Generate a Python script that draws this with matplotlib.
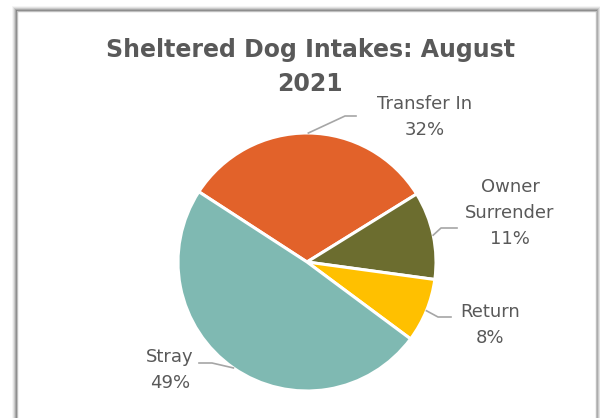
import numpy as np
import matplotlib
matplotlib.use("Agg")
import matplotlib.pyplot as plt
from matplotlib.patches import Rectangle
from matplotlib.lines import Line2D

categories = ["Transfer In", "Owner\nSurrender", "Return", "Stray"]
values = [32, 11, 8, 49]
colors = ["#E2622A", "#6C6D2F", "#FFC000", "#7FB9B2"]
title = "Sheltered Dog Intakes: August\n2021"

W, H = 600, 418
fig = plt.figure(figsize=(W / 100, H / 100), dpi=100)
fig.patch.set_facecolor("white")

# chart-area frame with soft shadow
fx0, fy0, fx1 = 17, 11, 596
for i, a in enumerate([0.04, 0.07, 0.11, 0.16, 0.22]):
    d = 5 - i
    fig.patches.append(Rectangle(((fx0 - d) / W, -0.1), (fx1 - fx0 + 2 * d) / W,
                                 (H - fy0 + d) / H + 0.1, transform=fig.transFigure,
                                 facecolor="black", alpha=a, edgecolor="none", zorder=0))
fig.patches.append(Rectangle((fx0 / W, -0.1), (fx1 - fx0) / W, (H - fy0) / H + 0.1,
                             transform=fig.transFigure, facecolor="white",
                             edgecolor="#BFBFBF", linewidth=1.0, zorder=1))

cx, cy, r = 307, 262, 129
ax = fig.add_axes([(cx - r) / W, (H - cy - r) / H, 2 * r / W, 2 * r / H])
ax.set_zorder(2)
wedges, _ = ax.pie(values, colors=colors, startangle=147, counterclock=False,
                   wedgeprops=dict(edgecolor="white", linewidth=2.2), radius=1.0)
ax.set_xlim(-1, 1)
ax.set_ylim(-1, 1)
ax.set_aspect("auto")
ax.axis("off")

ov = fig.add_axes([0, 0, 1, 1])
ov.set_zorder(3)
ov.set_xlim(0, W)
ov.set_ylim(H, 0)
ov.axis("off")
ov.patch.set_alpha(0)

txtc = "#595959"
ov.text(310, 67, title, ha="center", va="center", fontsize=17, fontweight="bold",
        color=txtc, linespacing=1.55)

fig.canvas.draw()
label_pos = [(425, 117), (510, 213), (490, 325), (170, 370)]
elbows = [[(345, 116), (356, 116)], [(441, 228), (457, 228)],
          [(438, 317), (451, 317)], [(212, 363), (199, 363)]]
for w, lab, v, (tx, ty), el in zip(wedges, categories, values, label_pos, elbows):
    mid = np.deg2rad((w.theta1 + w.theta2) / 2)
    px, py = ax.transData.transform((np.cos(mid), np.sin(mid)))
    py = H - py
    xs = [px] + [p[0] for p in el]
    ys = [py] + [p[1] for p in el]
    ov.add_line(Line2D(xs, ys, color="#A6A6A6", linewidth=1.2))
    ov.text(tx, ty, f"{lab}\n{v}%", ha="center", va="center", fontsize=13,
            color=txtc, linespacing=1.6)

fig.savefig("out.png", dpi=100)
